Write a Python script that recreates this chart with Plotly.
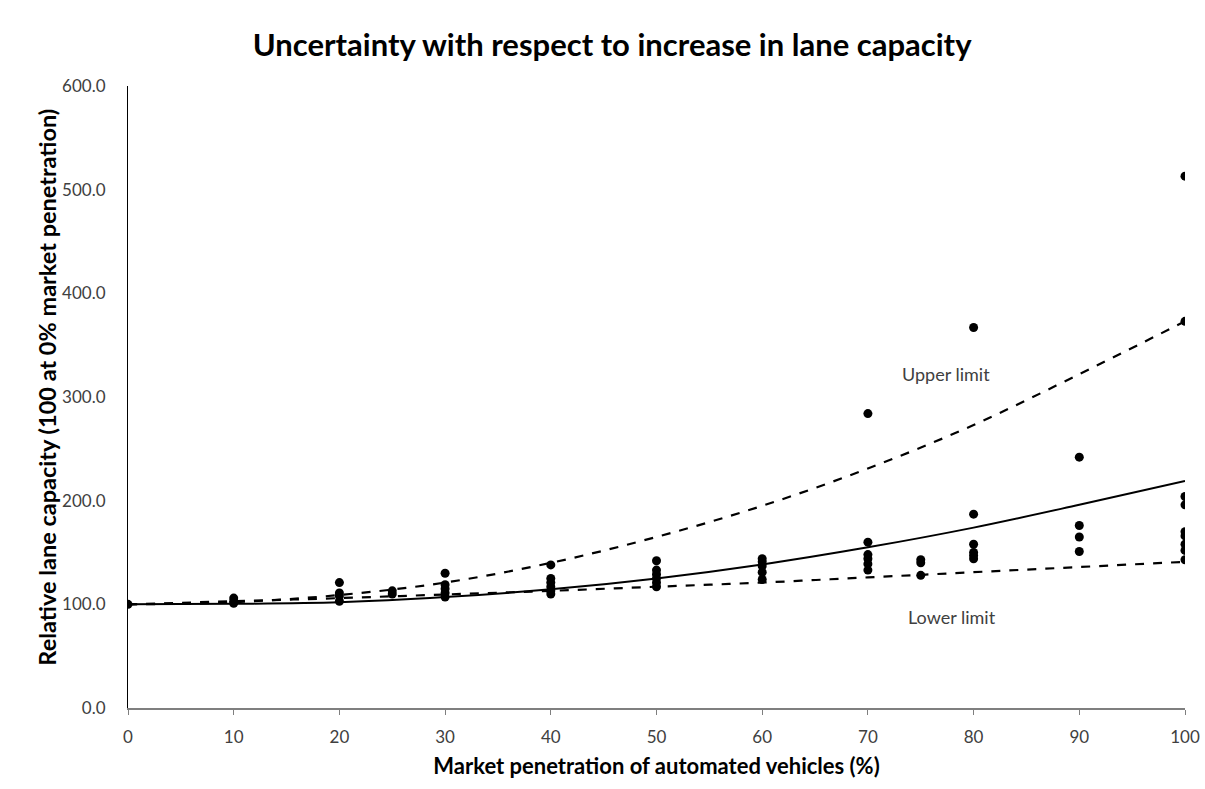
import plotly.graph_objects as go

# Observed data points (market penetration %, relative lane capacity)
pen_obs = [0,
           10, 10, 10,
           20, 20, 20, 20,
           25, 25,
           30, 30, 30, 30, 30,
           40, 40, 40, 40, 40, 40,
           50, 50, 50, 50, 50, 50,
           60, 60, 60, 60, 60,
           70, 70, 70, 70, 70, 70,
           75, 75, 75,
           80, 80, 80, 80, 80, 80,
           90, 90, 90, 90,
           100, 100, 100, 100, 100, 100, 100, 100, 100]
cap_obs = [100,
           101, 103, 106,
           121, 111, 108, 103,
           110, 113,
           130, 119, 115, 111, 107,
           138, 125, 121, 117, 113, 110,
           142, 133, 129, 125, 121, 117,
           144, 141, 137, 131, 124,
           284, 160, 148, 144, 139, 133,
           143, 140, 128,
           367, 187, 158, 150, 147, 144,
           242, 176, 165, 151,
           513, 373, 204, 196, 170, 166, 158, 152, 143]

# Fitted curves
pen_curve = [0, 10, 20, 30, 40, 50, 60, 70, 80, 90, 100]
mean_curve = [100, 100.5, 102, 107, 114.5, 125, 138.5, 155, 174, 196, 219]
upper_curve = [100, 102, 109, 121, 140, 165, 195, 231, 273, 322, 373]
lower_curve = [100, 103, 106, 109.5, 113, 117, 121, 126, 131, 136, 141]

y_ticks = [0, 100, 200, 300, 400, 500, 600]
x_ticks = [0, 10, 20, 30, 40, 50, 60, 70, 80, 90, 100]

fig = go.Figure()
fig.add_trace(go.Scatter(x=pen_curve, y=upper_curve, mode="lines", line=dict(color="black", width=2.2, dash="dash", shape="spline"), showlegend=False))
fig.add_trace(go.Scatter(x=pen_curve, y=lower_curve, mode="lines", line=dict(color="black", width=2.2, dash="dash", shape="spline"), showlegend=False))
fig.add_trace(go.Scatter(x=pen_curve, y=mean_curve, mode="lines", line=dict(color="black", width=2, shape="spline"), showlegend=False))
fig.add_trace(go.Scatter(x=pen_obs, y=cap_obs, mode="markers", marker=dict(color="black", size=9), showlegend=False))

fig.add_annotation(x=77.4, y=322, text="Upper limit", showarrow=False, font=dict(family="Lato", size=18, color="#404040"))
fig.add_annotation(x=78.0, y=88, text="Lower limit", showarrow=False, font=dict(family="Lato", size=18, color="#404040"))

# y-axis title as a rotated annotation for precise placement
fig.add_annotation(xref="paper", yref="paper", x=(47 - 128) / 1057, y=0.515, xanchor="center", yanchor="middle",
                   text="<b>Relative lane capacity (100 at 0% market penetration)</b>", textangle=-90, showarrow=False,
                   font=dict(family="Lato", size=23.5, color="black"))

fig.update_layout(
    width=1205, height=789,
    margin=dict(l=128, r=20, t=86, b=81),
    paper_bgcolor="white", plot_bgcolor="white",
    title=dict(text="<b>Uncertainty with respect to increase in lane capacity</b>", x=0.508, xanchor="center", y=0.943, yanchor="middle",
               font=dict(family="Lato", size=31, color="black")),
    font=dict(family="Lato"),
)
fig.update_xaxes(range=[0, 100], tickvals=x_ticks, ticktext=[str(v) for v in x_ticks], automargin=False,
                 showline=True, linecolor="#7f7f7f", linewidth=1.5, ticks="outside", ticklen=5, tickcolor="#7f7f7f",
                 showgrid=False, zeroline=False, ticklabelstandoff=8,
                 tickfont=dict(family="Lato", size=17, color="#404040"),
                 title=dict(text="<b>Market penetration of automated vehicles (%)</b>", font=dict(family="Lato", size=22, color="black"), standoff=12))
fig.update_yaxes(range=[0, 600], tickvals=y_ticks, ticktext=[f"{v:.1f}" for v in y_ticks], automargin=False,
                 showline=True, linecolor="black", linewidth=1.2, ticks="", showgrid=False, zeroline=False, ticklabelstandoff=18,
                 tickfont=dict(family="Lato", size=17, color="#404040"))

fig.write_html("out.html")
